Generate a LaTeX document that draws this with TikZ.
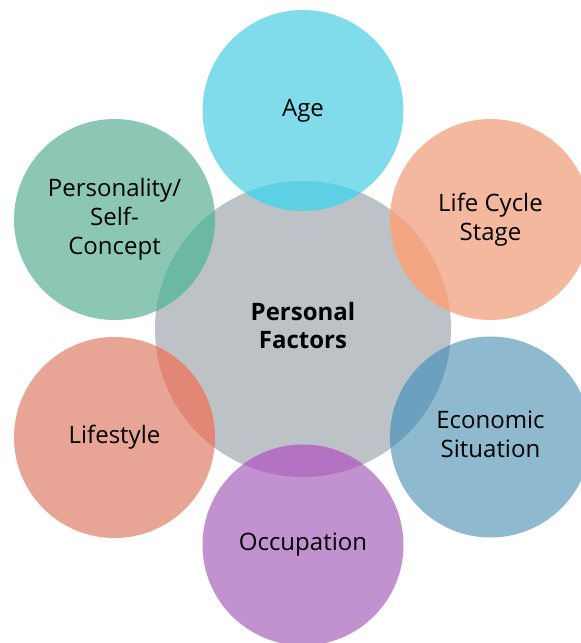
\documentclass[tikz,border=0pt]{standalone}
\usepackage{fontspec}
\setmainfont{Open Sans}
\definecolor{pgray}{HTML}{BDC2C6}
\definecolor{agec}{HTML}{80DBEA}
\definecolor{aged}{HTML}{5DD0E3}
\definecolor{lifec}{HTML}{F4B89E}
\definecolor{lifed}{HTML}{F2A682}
\definecolor{econc}{HTML}{8FB9CF}
\definecolor{econd}{HTML}{6BA0BF}
\definecolor{occc}{HTML}{C291CF}
\definecolor{occd}{HTML}{B373C2}
\definecolor{stylec}{HTML}{E8A595}
\definecolor{styled}{HTML}{E28676}
\definecolor{persc}{HTML}{8CC7B6}
\definecolor{persd}{HTML}{6BB8A4}
\begin{document}
\begin{tikzpicture}[x=1pt, y=-1pt,
  factor/.style={circle, minimum size=201pt, inner sep=0pt, align=center,
    font=\fontsize{24}{29}\selectfont}]
\useasboundingbox (0,0) rectangle (581,643);

\node (pf) [circle, fill=pgray, minimum size=296pt, inner sep=0pt] at (303,329) {};
\node (pftext) [align=center, font=\bfseries\fontsize{24}{28}\selectfont]
  at ([yshift=4pt]pf.center) {Personal\\Factors};

\node (age) [factor, fill=agec] at (303,110.5) {Age};
\node (life) [factor, fill=lifec] at (490.5,219.5) {Life Cycle\\Stage};
\node (econ) [factor, fill=econc] at (490.5,437) {};
\node (econtext) [align=center, font=\fontsize{24}{29}\selectfont]
  at ([yshift=3pt]econ.center) {Economic\\Situation};
\node (occ) [factor, fill=occc] at (303,545) {Occupation};
\node (style) [factor, fill=stylec] at (114.5,437.5) {Lifestyle};
\node (pers) [factor, fill=persc] at (114.5,219.5) {Personality/\\Self-\\Concept};

% overlaps with the centre
\begin{scope}
\clip (pf.center) circle [radius=148pt];
\fill [aged] (age.center) circle [radius=100.5pt];
\fill [lifed] (life.center) circle [radius=100.5pt];
\fill [econd] (econ.center) circle [radius=100.5pt];
\fill [occd] (occ.center) circle [radius=100.5pt];
\fill [styled] (style.center) circle [radius=100.5pt];
\fill [persd] (pers.center) circle [radius=100.5pt];
\end{scope}

\end{tikzpicture}
\end{document}
